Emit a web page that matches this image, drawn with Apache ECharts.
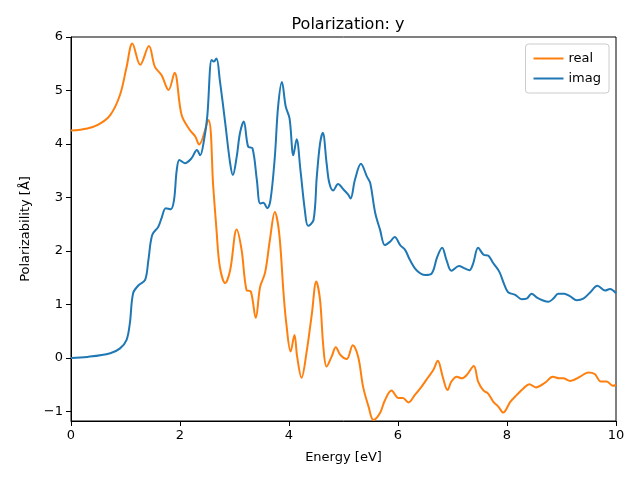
<!DOCTYPE html>
<html><head><meta charset="utf-8">
<script src="https://cdn.jsdelivr.net/npm/echarts@6/dist/echarts.min.js"></script>
<style>html,body{margin:0;padding:0;background:#fff}#c{width:640px;height:480px}</style>
</head><body><div id="c"></div>
<script>
const realX = [0,0.3,0.5,0.72,0.9,1.02,1.125,1.27,1.43,1.54,1.66,1.79,1.90,2.03,2.18,2.28,2.35,2.52,2.61,2.67,2.73,2.83,2.92,3.04,3.13,3.22,3.30,3.39,3.47,3.56,3.65,3.74,3.82,3.90,3.95,4.03,4.10,4.15,4.23,4.32,4.42,4.50,4.57,4.63,4.69,4.78,4.86,4.94,5.06,5.17,5.27,5.36,5.46,5.55,5.67,5.76,5.88,6.01,6.09,6.19,6.31,6.43,6.56,6.65,6.73,6.82,6.91,6.98,7.08,7.17,7.26,7.39,7.47,7.57,7.65,7.75,7.84,7.93,8.06,8.18,8.30,8.41,8.53,8.70,8.84,8.96,9.03,9.16,9.34,9.49,9.61,9.72,9.83,9.94,10];
const realY = [4.25,4.29,4.36,4.54,4.92,5.44,5.88,5.48,5.83,5.44,5.29,5.01,5.33,4.54,4.26,4.14,3.99,4.45,3.2,2.39,1.71,1.40,1.64,2.40,2.02,1.27,1.24,0.75,1.33,1.59,2.21,2.73,2.33,1.21,0.65,0.12,0.43,0.02,-0.37,0.09,0.83,1.43,1.08,0.21,-0.16,0.02,0.20,0.06,-0.02,0.24,0.02,-0.54,-0.91,-1.16,-1.03,-0.79,-0.61,-0.75,-0.75,-0.83,-0.69,-0.54,-0.35,-0.22,-0.05,-0.35,-0.60,-0.44,-0.35,-0.38,-0.32,-0.15,-0.44,-0.61,-0.66,-0.82,-0.91,-1.02,-0.82,-0.69,-0.57,-0.49,-0.55,-0.46,-0.35,-0.38,-0.38,-0.43,-0.35,-0.27,-0.30,-0.44,-0.44,-0.52,-0.50];
const imagX = [0,0.3,0.72,0.9,1.02,1.08,1.14,1.24,1.36,1.42,1.49,1.60,1.66,1.74,1.83,1.89,1.94,1.99,2.09,2.21,2.31,2.37,2.44,2.50,2.58,2.62,2.67,2.73,2.83,2.92,2.97,3.04,3.10,3.17,3.25,3.33,3.41,3.47,3.53,3.60,3.66,3.74,3.80,3.87,3.94,4.01,4.08,4.14,4.21,4.29,4.35,4.45,4.51,4.57,4.62,4.69,4.74,4.81,4.90,5.00,5.09,5.13,5.21,5.32,5.43,5.49,5.58,5.67,5.76,5.85,5.94,6.04,6.13,6.22,6.34,6.50,6.62,6.72,6.81,6.89,6.98,7.12,7.21,7.31,7.38,7.47,7.57,7.66,7.75,7.86,7.94,8.02,8.15,8.27,8.36,8.45,8.55,8.65,8.76,8.85,8.94,9.05,9.16,9.28,9.40,9.52,9.66,9.80,9.89,10];
const imagY = [0,0.02,0.09,0.18,0.34,0.65,1.21,1.36,1.46,1.83,2.30,2.45,2.61,2.80,2.78,2.95,3.51,3.70,3.64,3.73,3.89,3.79,4.07,4.51,5.57,5.54,5.60,5.20,4.39,3.64,3.42,3.76,4.20,4.42,3.95,3.92,3.33,2.89,2.90,2.80,2.95,3.76,4.70,5.16,4.70,4.48,3.79,4.09,3.51,2.77,2.47,2.58,3.39,4.01,4.21,3.64,3.27,3.13,3.25,3.15,3.05,2.98,3.33,3.63,3.39,3.27,2.72,2.40,2.11,2.17,2.26,2.11,2.02,1.83,1.64,1.55,1.58,1.89,2.06,1.83,1.63,1.72,1.68,1.64,1.77,2.06,1.93,1.91,1.77,1.61,1.40,1.23,1.18,1.10,1.11,1.20,1.13,1.08,1.05,1.11,1.20,1.20,1.15,1.08,1.11,1.22,1.35,1.26,1.29,1.21];
const xTicks = [0,2,4,6,8,10];
const yTicks = [-1,0,1,2,3,4,5,6];

const font = 'DejaVu Sans';
const chart = echarts.init(document.getElementById('c'), null, {renderer:'canvas'});
const zip = (xs, ys) => xs.map((x,i)=>[x, ys[i]]);
const fmt = v => String(v).replace('-', '\u2212');
chart.setOption({
  animation: false,
  backgroundColor: '#fff',
  title: {text: 'Polarization: y', left: 343, top: 12, textAlign: 'center',
    textStyle: {fontFamily: font, fontSize: 16, fontWeight: 'normal', color: '#000'}},
  legend: {
    orient: 'vertical', right: 31, top: 44,
    padding: [7, 8, 7, 8], itemGap: 5, itemWidth: 30, itemHeight: 2, icon: 'rect',
    borderColor: '#ccc', borderWidth: 1, borderRadius: 3,
    textStyle: {fontFamily: font, fontSize: 13, color: '#000', lineHeight: 15},
    data: ['real', 'imag']
  },
  grid: {left: 71, right: 24, top: 37, bottom: 59, show: true, borderColor: '#000', borderWidth: 1},
  xAxis: {
    type: 'value', min: 0, max: 10, interval: 2,
    name: 'Energy [eV]', nameLocation: 'middle', nameGap: 30,
    nameTextStyle: {fontFamily: font, fontSize: 13, color: '#000'},
    axisLine: {show: true, onZero: false, lineStyle: {color: '#000'}},
    axisTick: {show: true, length: 5, lineStyle: {color: '#000'}},
    axisLabel: {fontFamily: font, fontSize: 13, color: '#000', margin: 8, formatter: fmt},
    splitLine: {show: false}
  },
  yAxis: {
    type: 'value', min: -1.178, max: 6,
    name: 'Polarizability [Å]', nameLocation: 'middle', nameGap: 39,
    nameTextStyle: {fontFamily: font, fontSize: 13, color: '#000'},
    axisLine: {show: true, onZero: false, lineStyle: {color: '#000'}},
    axisTick: {show: true, length: 5, lineStyle: {color: '#000'}, customValues: yTicks},
    axisLabel: {fontFamily: font, fontSize: 13, color: '#000', margin: 8, formatter: fmt, customValues: yTicks},
    splitLine: {show: false}
  },
  series: [
    {name: 'real', type: 'line', data: zip(realX, realY), showSymbol: false, symbol: 'none',
     smooth: 0.35, color: '#ff7f0e', lineStyle: {width: 2, color: '#ff7f0e'}},
    {name: 'imag', type: 'line', data: zip(imagX, imagY), showSymbol: false, symbol: 'none',
     smooth: 0.35, color: '#1f77b4', lineStyle: {width: 2, color: '#1f77b4'}}
  ]
});
</script></body></html>
